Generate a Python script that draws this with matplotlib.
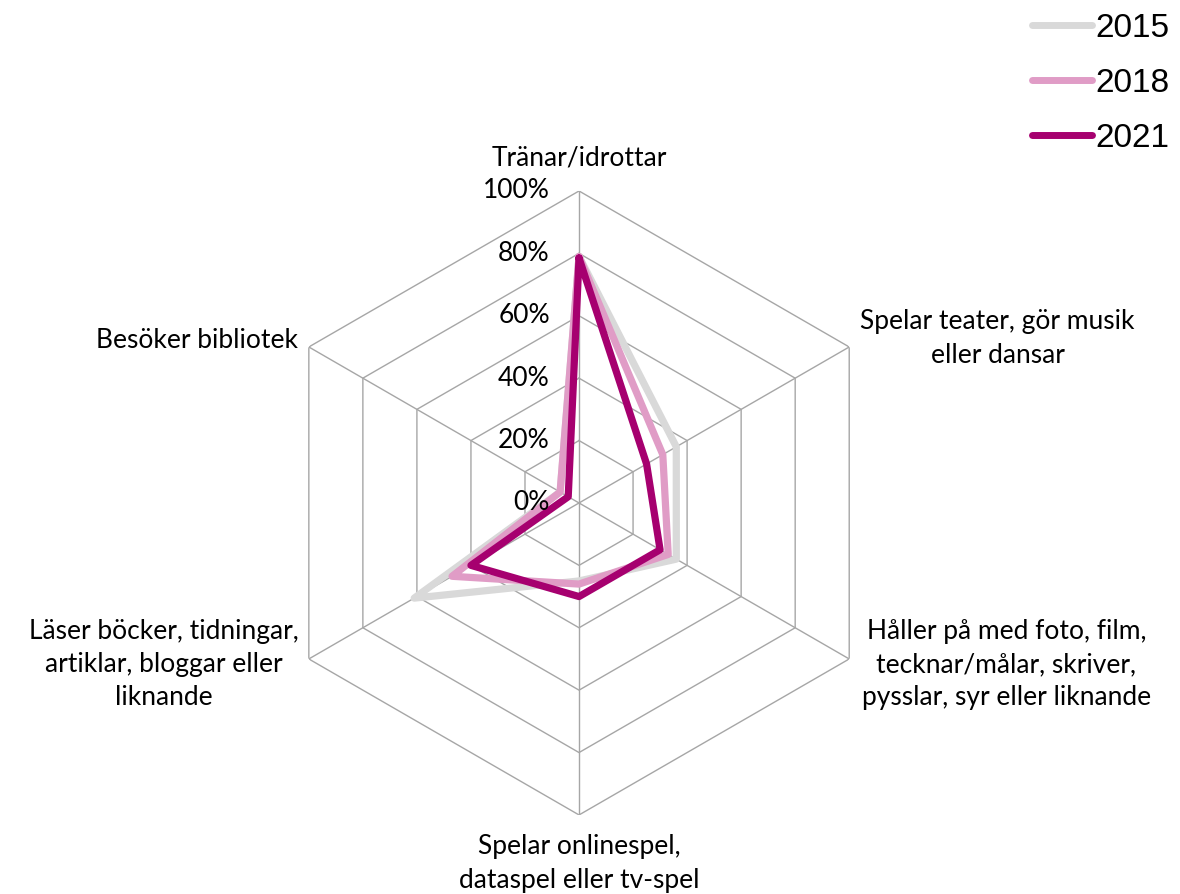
import numpy as np
import matplotlib.pyplot as plt

categories = [
    "Tränar/idrottar",
    "Spelar teater, gör musik\neller dansar",
    "Håller på med foto, film,\ntecknar/målar, skriver,\npysslar, syr eller liknande",
    "Spelar onlinespel,\ndataspel eller tv-spel",
    "Läser böcker, tidningar,\nartiklar, bloggar eller\nliknande",
    "Besöker bibliotek",
]
years = ["2015", "2018", "2021"]
v2015 = [0.79, 0.36, 0.36, 0.25, 0.61, 0.07]
v2018 = [0.79, 0.31, 0.33, 0.26, 0.47, 0.07]
v2021 = [0.785, 0.25, 0.30, 0.30, 0.40, 0.04]
ticks = [0, 0.2, 0.4, 0.6, 0.8, 1.0]
tick_labels = ["0%", "20%", "40%", "60%", "80%", "100%"]

colors = ["#D9D9D9", "#E09CC6", "#A6006F"]

plt.rcParams['font.family'] = ['Lato', 'DejaVu Sans']

fig = plt.figure(figsize=(11.8, 8.94), dpi=100)
ax = fig.add_axes([0.2263, 0.0884, 0.5288, 0.698], projection='polar')
ax.set_theta_zero_location('N')
ax.set_theta_direction(-1)
ax.set_ylim(0, 1.0)
ax.grid(False)
ax.spines['polar'].set_visible(False)
ax.set_xticks([])
ax.set_yticks([])
ax.patch.set_alpha(0)

n = len(categories)
angles = np.arange(n) * 2 * np.pi / n
closed = np.append(angles, angles[0])

# hexagon grid
for t in ticks[1:]:
    ax.plot(closed, [t] * (n + 1), color="#A6A6A6", lw=1.0, zorder=1)
for a in angles:
    ax.plot([a, a], [0, 1.0], color="#A6A6A6", lw=1.0, zorder=1)

# data
for vals, col, lab in zip([v2015, v2018, v2021], colors, years):
    ax.plot(closed, vals + vals[:1], color=col, lw=5.2, label=lab, zorder=3,
            solid_capstyle='round')

# radial labels
for t, tl in zip(ticks, tick_labels):
    ax.annotate(tl, xy=(0, t), xytext=(-21, 0), textcoords='offset points',
                ha='right', va='center', fontsize=19, color='black')

# category labels
offsets = [(0, 24, 'center'), (8, 6, 'left'), (9, -4, 'left'),
           (0, -35, 'center'), (-7, -4, 'right'), (-8, 5, 'right')]
for a, cat, (dx, dy, ha) in zip(angles, categories, offsets):
    ax.annotate(cat, xy=(a, 1.0), xytext=(dx, dy), textcoords='offset points',
                ha=ha, va='center', multialignment='center', fontsize=19,
                linespacing=1.42, annotation_clip=False)

leg = fig.legend(loc='upper right', bbox_to_anchor=(1.008, 1.008), frameon=False,
                 prop={'family': 'Liberation Sans', 'size': 24},
                 handlelength=1.8, handletextpad=0.1, labelspacing=0.72,
                 borderaxespad=0.2)
for line in leg.get_lines():
    line.set_linewidth(5)
    line.set_solid_capstyle('round')

fig.savefig("out.png", dpi=100)
